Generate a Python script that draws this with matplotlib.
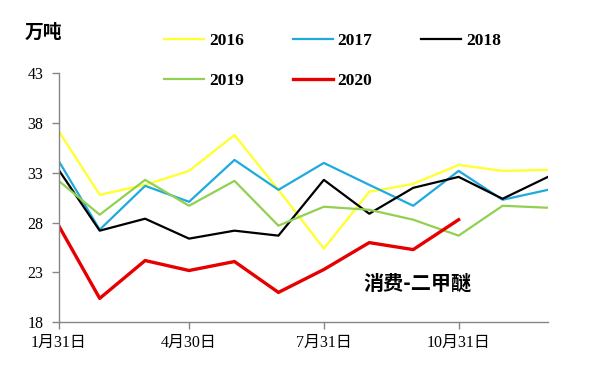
import matplotlib.pyplot as plt
import pandas as pd

# month-end dates (common year for the x axis)
months = pd.to_datetime(["2019-01-31", "2019-02-28", "2019-03-31", "2019-04-30",
                         "2019-05-31", "2019-06-30", "2019-07-31", "2019-08-31",
                         "2019-09-30", "2019-10-31", "2019-11-30", "2019-12-31"])

y2016 = [37.2, 30.8, 31.8, 33.2, 36.8, 31.3, 25.4, 31.1, 31.9, 33.8, 33.2, 33.3]
y2017 = [34.2, 27.3, 31.7, 30.1, 34.3, 31.3, 34.0, 31.8, 29.7, 33.2, 30.3, 31.3]
y2018 = [33.3, 27.2, 28.4, 26.4, 27.2, 26.7, 32.3, 28.9, 31.5, 32.6, 30.4, 32.6]
y2019 = [32.2, 28.8, 32.3, 29.7, 32.2, 27.7, 29.6, 29.3, 28.3, 26.7, 29.7, 29.5]
y2020 = [27.7, 20.4, 24.2, 23.2, 24.1, 21.0, 23.3, 26.0, 25.3, 28.3]

yticks = [18, 23, 28, 33, 38, 43]
xtick_dates = pd.to_datetime(["2019-01-31", "2019-04-30", "2019-07-31", "2019-10-31"])
xtick_labels = ["1月31日", "4月30日", "7月31日", "10月31日"]

serif = ["Liberation Serif", "Noto Sans CJK SC"]

fig = plt.figure(figsize=(5.91, 3.65), dpi=100)
ax = fig.add_axes([0.0993, 0.117, 0.8279, 0.6822])

l16, = ax.plot(months, y2016, color="#FFFF33", lw=1.7, label="2016")
l17, = ax.plot(months, y2017, color="#1EAADF", lw=1.6, label="2017")
l18, = ax.plot(months, y2018, color="#000000", lw=1.6, label="2018")
l19, = ax.plot(months, y2019, color="#92D050", lw=1.6, label="2019")
l20, = ax.plot(months[:len(y2020)], y2020, color="#E60000", lw=2.4, label="2020")

ax.set_xlim(months[0], months[-1])
ax.set_ylim(18, 43)
ax.set_yticks(yticks)
ax.set_yticklabels([str(v) for v in yticks], family=serif, fontsize=11.5)
ax.set_xticks(xtick_dates)
ax.set_xticklabels(xtick_labels, family=serif, fontsize=11.5)

for s in ["top", "right"]:
    ax.spines[s].set_visible(False)
for s in ["left", "bottom"]:
    ax.spines[s].set_color("#868686")
    ax.spines[s].set_linewidth(1.0)
ax.tick_params(axis="both", direction="out", length=5, color="#868686", width=1.0)
ax.tick_params(axis="y", pad=6)
ax.tick_params(axis="x", pad=4)

# legend, filled row by row
handles = [l16, l19, l17, l20, l18]
fig.legend(handles, [h.get_label() for h in handles], ncol=3,
           loc="upper left", bbox_to_anchor=(0.251, 0.952), frameon=False,
           prop={"family": serif, "weight": "bold", "size": 12.5},
           handlelength=2.3, handletextpad=0.3, columnspacing=2.8,
           labelspacing=1.35)

fig.text(0.042, 0.91, "万吨", fontsize=13.5, fontweight="bold",
         family=["Noto Sans CJK SC"], va="center", ha="left")
fig.text(0.707, 0.225, "消费-二甲醚", fontsize=14.5, fontweight="bold",
         family=["Noto Sans CJK SC"], ha="center", va="center")

fig.savefig("out.png", dpi=100)
